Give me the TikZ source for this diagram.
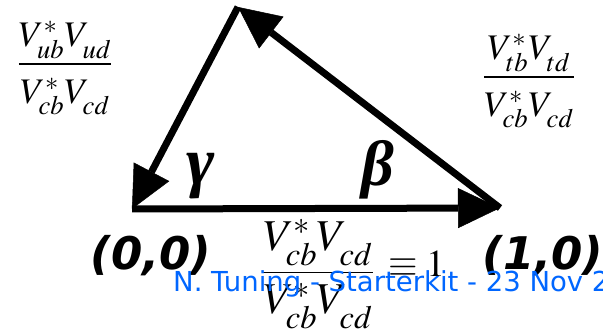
\documentclass[tikz,border=0pt]{standalone}
\usepackage{amsmath}
\usepackage{mathptmx}
\usepackage[no-math]{fontspec}
\setmainfont{Liberation Serif}
\newfontfamily\dejavu{DejaVu Sans}
\usetikzlibrary{positioning,arrows.meta}
\definecolor{footblue}{RGB}{0,102,255}
% CKM element with the subscript set low, as on the slide
\newcommand{\Vel}[2]{V^{#1\vphantom{*}}_{\lower.1em\hbox{$\scriptstyle#2$}}}

\begin{document}
\begin{tikzpicture}[x=1pt,y=-1pt,
arr/.style={-{Triangle[length=42pt,width=40pt,line width=0.5pt]},line width=7pt},
ratio/.style={inner sep=0pt,font=\fontsize{36}{38}\selectfont},
angle/.style={inner sep=0pt,font=\fontsize{64}{66}\selectfont\bfseries\itshape},
corner/.style={inner sep=0pt,font=\dejavu\fontsize{45}{47}\selectfont\bfseries\itshape}]
\useasboundingbox (0,0) rectangle (603,336);
\coordinate (A) at (132,209);
\coordinate (B) at (500,208);
\coordinate (C) at (238,7);
\draw[arr] (A) -- (B);
\draw[arr] (B) -- (C);
\draw[arr] (C) -- (A);
\node[angle,font=\fontsize{68}{70}\selectfont\bfseries\itshape] (gamma) at (201,176) {γ};
\node[angle] (beta) at (378,170) {β};
\node[corner] (origin) at (151,256) {(0,0)};
\node[corner] (unit) at (543,256) {(1,0)};
\node[ratio] (left) at (65,68) {$\displaystyle\frac{\Vel{*}{ub}\Vel{}{ud}}{\rule{0pt}{.95em}\Vel{*}{cb}\Vel{}{cd}}$};
\node[ratio] (right) at (529,81) {$\displaystyle\frac{\Vel{*}{tb}\Vel{}{td}}{\rule{0pt}{.95em}\Vel{*}{cb}\Vel{}{cd}}$};
\node[ratio,font=\fontsize{44}{46}\selectfont] (base) at (318,274) {$\displaystyle\frac{\Vel{*}{cb}\Vel{}{cd}}{\Vel{*}{cb}\Vel{}{cd}}$};
\node[inner sep=0pt,anchor=base west,font=\fontsize{38}{40}\selectfont] (one) at (388,277) {$\equiv 1$};
% footer of the slide
\node[inner sep=0pt,anchor=base west,text=footblue,font=\dejavu\fontsize{27.5}{29}\selectfont] (foot) at (173,292) {N. Tuning - Starterkit - 23 Nov 2009};
\end{tikzpicture}
\end{document}
